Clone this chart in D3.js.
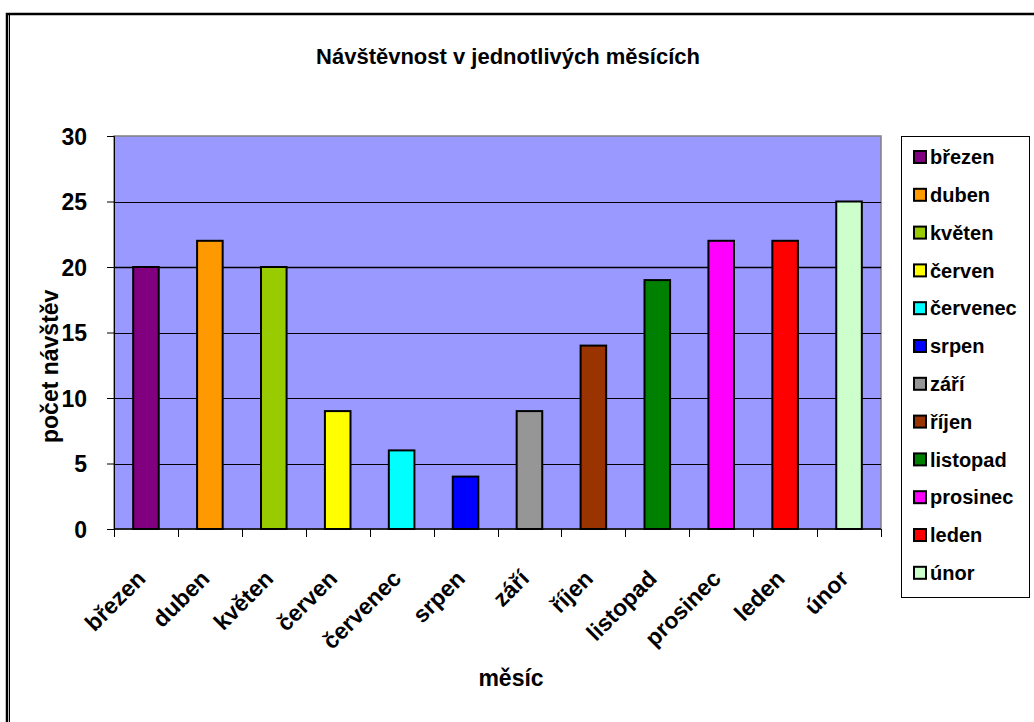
<!DOCTYPE html>
<html>
<head>
<meta charset="utf-8">
<script src="https://cdn.jsdelivr.net/npm/d3@7"></script>
<style>
  body { margin: 0; background: #fff; }
  text { font-family: "Liberation Sans", Arial, sans-serif; font-weight: bold; fill: #000; }
</style>
</head>
<body>
<div id="chart"></div>
<script>
// Návštěvnost v jednotlivých měsících
// -----------------

var months = ["březen", "duben", "květen", "červen", "červenec", "srpen",
              "září", "říjen", "listopad", "prosinec", "leden", "únor"];
var visits = [20, 22, 20, 9, 6, 4, 9, 14, 19, 22, 22, 25];
var colors = ["#800080", "#FF9900", "#99CC00", "#FFFF00", "#00FFFF", "#0000FF",
              "#969696", "#993300", "#008000", "#FF00FF", "#FF0000", "#CCFFCC"];
var yTicks = [0, 5, 10, 15, 20, 25, 30];

var width = 1034, height = 722;
var plot = { left: 114, top: 136, right: 881, bottom: 529 };

var svg = d3.select("#chart").append("svg")
  .attr("width", width)
  .attr("height", height);

// outer frame (double line on the left, cut off on the right/bottom)
svg.append("rect")
  .attr("x", 7).attr("y", 14)
  .attr("width", 1100).attr("height", 900)
  .attr("fill", "none").attr("stroke", "#000").attr("stroke-width", 2.5);
svg.append("line")
  .attr("x1", 9.5).attr("x2", 9.5).attr("y1", 15).attr("y2", height)
  .attr("stroke", "#000").attr("stroke-width", 1);

var x = d3.scaleBand()
  .domain(months)
  .range([plot.left, plot.right])
  .paddingInner(0.6)
  .paddingOuter(0.3);

var xBand = d3.scaleBand()
  .domain(months)
  .range([plot.left, plot.right]);

var y = d3.scaleLinear()
  .domain([0, 30])
  .range([plot.bottom, plot.top]);

// plot area
svg.append("rect")
  .attr("x", plot.left).attr("y", plot.top)
  .attr("width", plot.right - plot.left)
  .attr("height", plot.bottom - plot.top)
  .attr("fill", "#9999FF")
  .attr("stroke", "#808080").attr("stroke-width", 1.5);

// gridlines
svg.append("g").selectAll("line")
  .data(yTicks.filter(function(d) { return d > 0 && d < 30; }))
  .enter().append("line")
  .attr("x1", plot.left).attr("x2", plot.right)
  .attr("y1", function(d) { return Math.round(y(d)) + 0.5; })
  .attr("y2", function(d) { return Math.round(y(d)) + 0.5; })
  .attr("stroke", "#000")
  .attr("stroke-width", function(d) { return d === 20 ? 1.6 : 1; });

// bars
svg.append("g").selectAll("rect")
  .data(visits)
  .enter().append("rect")
  .attr("x", function(d, i) { return x(months[i]); })
  .attr("width", x.bandwidth())
  .attr("y", function(d) { return y(d); })
  .attr("height", function(d) { return y(0) - y(d); })
  .attr("fill", function(d, i) { return colors[i]; })
  .attr("stroke", "#000")
  .attr("stroke-width", 2);

// y axis
var yAxis = svg.append("g")
  .attr("transform", "translate(" + plot.left + ",0)")
  .call(d3.axisLeft(y).tickValues(yTicks).tickSize(7).tickPadding(20));
yAxis.select(".domain").attr("stroke", "#000").attr("stroke-width", 1);
yAxis.selectAll(".tick line").attr("stroke", "#000");
yAxis.selectAll(".tick text")
  .style("font-size", "23px")
  .attr("dy", "0.36em");

// x axis (ticks on category boundaries)
var xAxis = svg.append("g")
  .attr("transform", "translate(0," + plot.bottom + ")");
xAxis.append("line")
  .attr("x1", plot.left).attr("x2", plot.right)
  .attr("stroke", "#000").attr("stroke-width", 1.5);
xAxis.selectAll(".xtick")
  .data(months.concat(["end"]))
  .enter().append("line")
  .attr("x1", function(d, i) { return Math.round(plot.left + i * xBand.bandwidth()) + 0.5; })
  .attr("x2", function(d, i) { return Math.round(plot.left + i * xBand.bandwidth()) + 0.5; })
  .attr("y1", 0).attr("y2", 8)
  .attr("stroke", "#000");

xAxis.selectAll(".xlabel")
  .data(months)
  .enter().append("text")
  .attr("transform", function(d) {
    var cx = xBand(d) + xBand.bandwidth() / 2;
    return "translate(" + (cx + 1) + ",51) rotate(-45)";
  })
  .attr("text-anchor", "end")
  .style("font-size", "23px")
  .text(function(d) { return d; });

// titles
svg.append("text")
  .attr("x", 508).attr("y", 64)
  .attr("text-anchor", "middle")
  .style("font-size", "22px")
  .text("Návštěvnost v jednotlivých měsících");

svg.append("text")
  .attr("x", 511).attr("y", 686)
  .attr("text-anchor", "middle")
  .style("font-size", "23px")
  .text("měsíc");

svg.append("text")
  .attr("transform", "translate(58,443) rotate(-90)")
  .attr("text-anchor", "start")
  .style("font-size", "23px")
  .text("počet návštěv");

// legend
var legend = svg.append("g");
legend.append("rect")
  .attr("x", 901.5).attr("y", 136.5)
  .attr("width", 128).attr("height", 461)
  .attr("fill", "#fff").attr("stroke", "#000").attr("stroke-width", 1);

var item = legend.selectAll(".item")
  .data(months)
  .enter().append("g")
  .attr("transform", function(d, i) { return "translate(913," + (157 + i * 37.8) + ")"; });
item.append("rect")
  .attr("x", 1).attr("y", -6)
  .attr("width", 12).attr("height", 12)
  .attr("fill", function(d, i) { return colors[i]; })
  .attr("stroke", "#000").attr("stroke-width", 2);
item.append("text")
  .attr("x", 17).attr("y", 0).attr("dy", "0.36em")
  .style("font-size", "20px")
  .text(function(d) { return d; });
</script>
</body>
</html>
